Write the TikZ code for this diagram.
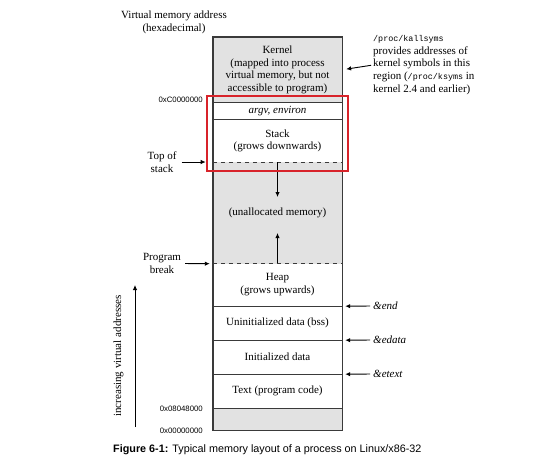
\documentclass[tikz,border=0pt]{standalone}
\usepackage{fontspec}
\setmainfont{Liberation Serif}
\setsansfont{Liberation Sans}
\setmonofont{Liberation Mono}
\usetikzlibrary{arrows.meta}
\definecolor{memgray}{HTML}{E2E2E2}
\definecolor{frame}{HTML}{3A3A3A}
\definecolor{hlred}{HTML}{D8232A}
\begin{document}
\begin{tikzpicture}[x=1pt,y=-1pt,
  seg/.style={rectangle,inner sep=0pt,minimum width=129pt,anchor=center,
    font=\fontsize{11}{12.6}\selectfont,align=center},
  sep/.style={draw=frame,line width=1.4pt},
  dsep/.style={draw=frame,line width=1.2pt,dash pattern=on 4.5pt off 3.5pt},
  arr/.style={draw=black,line width=0.9pt,-{Latex[length=5pt,width=4.5pt]}},
  lbl/.style={inner sep=0pt,font=\fontsize{11}{12.6}\selectfont,align=center},
  hex/.style={inner sep=0pt,anchor=east,font=\sffamily\fontsize{7.8}{9}\selectfont},
  amp/.style={inner sep=0pt,anchor=west,font=\itshape\fontsize{11}{12.6}\selectfont}
]
\useasboundingbox[fill=white] (0,0) rectangle (540,461);

% segments
\node[seg,fill=memgray,minimum height=65.5pt] (kernel) at (277.5,69.75)
  {Kernel\\(mapped into process\\virtual memory, but not\\accessible to program)};
\node[seg,fill=white,minimum height=17pt] (argv) at (277.5,111) {\itshape argv, environ};
\node[seg,fill=white,minimum height=42.5pt] (stack) at (277.5,140.75) {Stack\\(grows downwards)};
\node[seg,fill=memgray,minimum height=101.5pt] (unalloc) at (277.5,212.75) {(unallocated memory)};
\node[seg,fill=white,minimum height=42.5pt] (heap) at (277.5,284.75) {Heap\\(grows upwards)};
\node[seg,fill=white,minimum height=34pt] (bss) at (277.5,323) {Uninitialized data (bss)};
\node[seg,fill=white,minimum height=34pt] (init) at (277.5,357) {Initialized data};
\node[seg,fill=white,minimum height=34pt] (text) at (277.5,391) {Text (program code)};
\node[seg,fill=memgray,minimum height=22pt] (low) at (277.5,419) {};

% separators
\draw[sep] (kernel.south west) -- (kernel.south east);
\draw[sep] (argv.south west) -- (argv.south east);
\draw[dsep] (stack.south west) -- (stack.south east);
\draw[dsep] (unalloc.south west) -- (unalloc.south east);
\draw[sep] (heap.south west) -- (heap.south east);
\draw[sep] (bss.south west) -- (bss.south east);
\draw[sep] (init.south west) -- (init.south east);
\draw[sep] (text.south west) -- (text.south east);
\draw[sep] (kernel.north west) rectangle (low.south east);

% growth arrows
\coordinate (downend) at (277.5,197);
\coordinate (upend) at (277.5,233);
\draw[arr] (stack.south) -- (downend);
\draw[arr] (heap.north) -- (upend);

% highlight box
\node[draw=hlred,line width=2.6pt,inner sep=0pt,minimum width=141pt,minimum height=75pt] (hl) at (277.5,133.5) {};

% left labels
\node[lbl] (vma) at (174,22.5) {Virtual memory address\\(hexadecimal)};
\node[hex] (hexC) at (203,99.5) {0xC0000000};
\node[hex] (hex08) at (203,408.5) {0x08048000};
\node[hex] (hex00) at (203,431) {0x00000000};

\node[lbl] (tos) at (162,162) {Top of\\stack};
\draw[arr,shorten <=5pt] (tos.east) -- (hl.west |- tos.east);
\node[lbl] (pbrk) at (162,263.5) {Program\\break};
\draw[arr,shorten <=4pt,shorten >=3pt] (pbrk.east) -- (unalloc.south west);

% increasing addresses
\node[lbl,rotate=90] (inc) at (118.5,356) {increasing virtual addresses};
\coordinate (incbot) at (135,427);
\coordinate (inctop) at (135,285);
\draw[arr,line width=0.8pt] (incbot) -- (inctop);

% right labels
\node[inner sep=0pt,anchor=west,align=left,font=\fontsize{11}{12.8}\selectfont] (note) at (373,65)
  {{\ttfamily\fontsize{8.4}{12.8}\selectfont /proc/kallsyms}\\provides addresses of\\kernel symbols in this\\region ({\ttfamily\fontsize{8.4}{12.8}\selectfont /proc/ksyms} in\\kernel 2.4 and earlier)};
\draw[arr,shorten <=2pt,shorten >=4pt] (note.west) -- (kernel.east);

\node[amp] (end) at (373,306) {\&end};
\draw[arr,shorten <=3pt,shorten >=3pt] (end.west) -- (heap.south east);
\node[amp] (edata) at (373,340) {\&edata};
\draw[arr,shorten <=3pt,shorten >=3pt] (edata.west) -- (bss.south east);
\node[amp] (etext) at (373,374) {\&etext};
\draw[arr,shorten <=3pt,shorten >=3pt] (etext.west) -- (init.south east);

% caption
\node[inner sep=0pt,anchor=west,font=\sffamily\fontsize{10.8}{12}\selectfont] (cap) at (113,450)
  {\textbf{Figure 6-1:} Typical memory layout of a process on Linux/x86-32};
\end{tikzpicture}
\end{document}
